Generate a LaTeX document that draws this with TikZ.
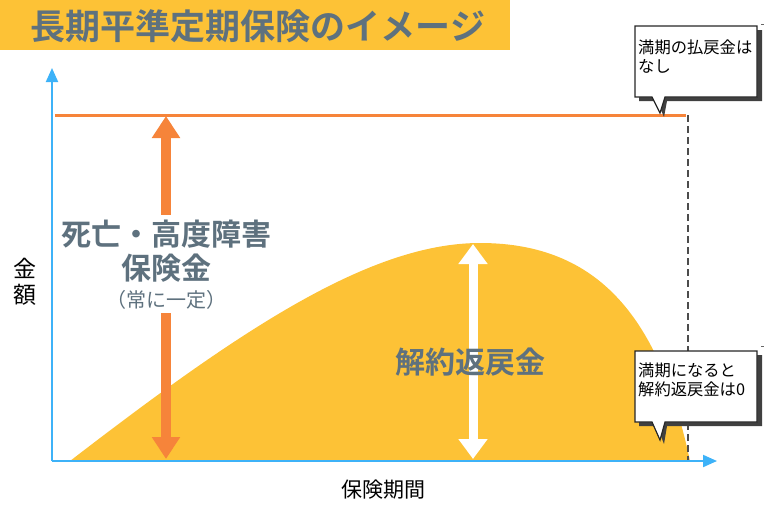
\documentclass[tikz,border=0pt]{standalone}
\usepackage{fontspec}
\setmainfont{Noto Sans CJK JP}
\newfontfamily\jpbold{Noto Sans CJK JP Bold}
\usetikzlibrary{arrows.meta}
\definecolor{tyel}{HTML}{FDC236}
\definecolor{slate}{HTML}{5E717E}
\definecolor{orng}{HTML}{F6843A}
\definecolor{skyb}{HTML}{3DB2F8}
\tikzset{
  labeltxt/.style={text=slate,font=\jpbold, inner sep=0pt},
  calloutbox/.style={draw=black!85,line width=1.2pt,fill=white},
  calloutshadow/.style={fill=black!75},
  callouttxt/.style={font=\fontsize{16.3}{18.5}\selectfont,align=left,anchor=north west,inner sep=0pt},
  axisline/.style={draw=skyb,line width=2pt,-{Triangle[width=12pt,length=14pt]}},
}
\begin{document}
\begin{tikzpicture}[x=1pt,y=-1pt]
\useasboundingbox (0,0) rectangle (768,512);
% title
\fill[tyel] (0,0) rectangle (510,50);
\node[labeltxt,font=\jpbold\fontsize{35}{38}\selectfont] (title) at (258,26) {長期平準定期保険のイメージ};
% coordinates
\coordinate (O) at (52,461);
\coordinate (ytop) at (52,68);
\coordinate (xend) at (717,461);
\coordinate (topL) at (55,115);
\coordinate (topR) at (686,115);
\coordinate (dashT) at (688,115);
\coordinate (dashB) at (688,461);
% yellow area
\fill[tyel] (70,461) .. controls (240,330) and (370,243) .. (480,243)
   .. controls (600,243) and (660,320) .. (690,461) -- cycle;
% orange line
\draw[orng,line width=3pt] (topL) -- (topR);
% dashed
\draw[black!70,line width=1.4pt,dash pattern=on 7pt off 4pt] (dashT) -- (dashB);
% orange arrow
\coordinate (oa1) at (166,116);
\coordinate (oa2) at (166,459);
\draw[orng,line width=10pt,{Triangle[width=27pt,length=22pt]}-{Triangle[width=27pt,length=22pt]}] (oa1) -- (oa2);
% white arrow
\coordinate (wa1) at (473,244);
\coordinate (wa2) at (473,459);
\draw[white,line width=9pt,{Triangle[width=28pt,length=20pt]}-{Triangle[width=28pt,length=20pt]}] (wa1) -- (wa2);
% axes
\draw[axisline] (O) -- (ytop);
\draw[axisline] (O) -- (xend);
% death benefit text
\node[fill=white,inner sep=0pt,minimum width=30pt,minimum height=98pt] (dbbg) at (166,264) {};
\node[labeltxt,font=\jpbold\fontsize{30}{32}\selectfont] (db1) at (166,234) {死亡・高度障害};
\node[labeltxt,font=\jpbold\fontsize{30}{32}\selectfont] (db2) at (166,268) {保険金};
\node[labeltxt,font=\fontsize{20}{22}\selectfont] (db3) at (166,300) {（常に一定）};
% surrender text
\node[labeltxt,font=\jpbold\fontsize{30}{32}\selectfont] (sv) at (470,362) {解約返戻金};
% axis labels
\node[font=\fontsize{23}{25}\selectfont,inner sep=0pt] (k1) at (25,268) {金};
\node[font=\fontsize{23}{25}\selectfont,inner sep=0pt] (k2) at (25,295) {額};
\node[font=\fontsize{21}{24}\selectfont,inner sep=0pt] (xl) at (383,490) {保険期間};
% callout 1
\fill[calloutshadow] (639,30) -- (762,30) -- (762,101) -- (667,101) -- (664,117) -- (657,101) -- (639,101) -- cycle;
\draw[calloutbox] (635,26) -- (757,26) -- (757,97) -- (665,97) -- (660,113) -- (652,97) -- (635,97) -- cycle;
\node[callouttxt] (c1) at (638,40) {満期の払戻金は\\なし};
% callout 2
\fill[calloutshadow] (639,355) -- (762,355) -- (762,426) -- (667,426) -- (664,444) -- (657,426) -- (639,426) -- cycle;
\draw[calloutbox] (635,351) -- (757,351) -- (757,422) -- (665,422) -- (660,440) -- (652,422) -- (635,422) -- cycle;
\node[callouttxt] (c2) at (638,363) {満期になると\\解約返戻金は0};
% tiny ticks
\draw[black!60,line width=0.6pt] (761,24) -- (764,24);
\draw[black!60,line width=0.6pt] (761,346) -- (764,346);
\end{tikzpicture}
\end{document}
